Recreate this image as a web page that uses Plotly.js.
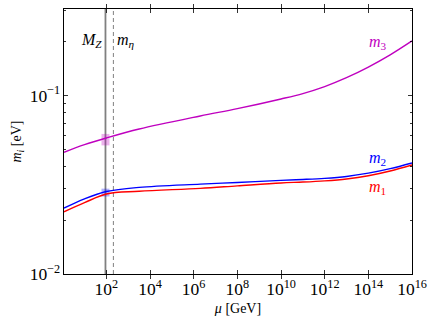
<!DOCTYPE html>
<html>
<head>
<meta charset="utf-8">
<script src="https://cdn.plot.ly/plotly-3.0.1.min.js"></script>
<style>html,body{margin:0;padding:0;background:#fff;}#chart{width:436px;height:327px;}</style>
</head>
<body>
<div id="chart"></div>
<script>
// Renormalization scale mu [GeV]
const mu = [1.15, 10, 100, 3.2e3, 2e6, 1e8, 1e10, 1e11, 1e12, 1e13, 1e14, 1e15, 1e16];
// Neutrino masses [eV]
const m1 = [0.0223, 0.0251, 0.0281, 0.0291, 0.0302, 0.0312, 0.03239, 0.03277, 0.03329, 0.03411, 0.03557, 0.03782, 0.04086];
const m2 = [0.0234, 0.0264, 0.0290, 0.0306, 0.0319, 0.0326, 0.03350, 0.03388, 0.03437, 0.03522, 0.03675, 0.03897, 0.04194];
const m3 = [0.0481, 0.0531, 0.0579, 0.0650, 0.0769, 0.0845, 0.0958, 0.1027, 0.1124, 0.1260, 0.1445, 0.1692, 0.2026];
// Scales
const MZ = 91.19;
const mEta = 210;
// Values at M_Z with uncertainty ranges
const m3Range = [0.0526, 0.061];
const m2Range = [0.0272, 0.0301];
const yLim = [0.01, 0.306];
const xLim = [1.15, 1e16];
const yMinorTicks = [0.02,0.03,0.04,0.05,0.06,0.07,0.08,0.09,0.2,0.3];

const serif = 'Liberation Serif, Times New Roman, serif';
const traces = [
  {x:[MZ,MZ], y:yLim, mode:'lines', line:{color:'#808080', width:1.8}, hoverinfo:'skip'},
  {x:[mEta,mEta], y:yLim, mode:'lines', line:{color:'#808080', width:1, dash:'4px,3px'}, hoverinfo:'skip'},
  {x:[MZ,MZ], y:m3Range, mode:'lines', line:{color:'#bf00bf', width:8}, opacity:0.3, hoverinfo:'skip'},
  {x:[MZ,MZ], y:m2Range, mode:'lines', line:{color:'#0000ff', width:8}, opacity:0.3, hoverinfo:'skip'},
  {x:mu, y:m1, mode:'lines', line:{color:'#ff0000', width:1.4, shape:'spline', smoothing:1}},
  {x:mu, y:m2, mode:'lines', line:{color:'#0000ff', width:1.4, shape:'spline', smoothing:1}},
  {x:mu, y:m3, mode:'lines', line:{color:'#bf00bf', width:1.4, shape:'spline', smoothing:1}},
  // invisible trace to carry minor-tick overlay axis
  {x:[xLim[0]], y:[yLim[0]], yaxis:'y2', mode:'markers', marker:{opacity:0}, hoverinfo:'skip'}
];

const ann = (t, x, y, c) => ({text:t, xref:'paper', yref:'paper', x:x, y:y, showarrow:false,
  xanchor:'center', yanchor:'middle', font:{family:serif, size:16, color:c}});

const yr = [Math.log10(yLim[0]), Math.log10(yLim[1])];
const layout = {
  width:436, height:327,
  margin:{l:64, r:24, t:9, b:53},
  paper_bgcolor:'#fff', plot_bgcolor:'#fff',
  showlegend:false,
  font:{family:serif, size:14, color:'#000'},
  xaxis:{type:'log', range:[Math.log10(xLim[0]), Math.log10(xLim[1])], dtick:2, exponentformat:'power',
    ticks:'inside', ticklen:4, tickwidth:0.8, tickcolor:'#000', mirror:'allticks', showline:true,
    linecolor:'#000', linewidth:1, showgrid:false, zeroline:false,
    tickfont:{family:serif, size:14},
    title:{text:'<i>μ</i> [GeV]', font:{family:serif, size:14}, standoff:4}},
  yaxis:{type:'log', range:yr, dtick:1, exponentformat:'power',
    ticks:'inside', ticklen:4, tickwidth:0.8, tickcolor:'#000', mirror:'allticks', showline:true,
    linecolor:'#000', linewidth:1, showgrid:false, zeroline:false,
    tickfont:{family:serif, size:14},
    title:{text:'<i>m<sub>i</sub></i> [eV]', font:{family:serif, size:14}, standoff:4}},
  yaxis2:{type:'log', range:yr, overlaying:'y', side:'left', tickvals:yMinorTicks,
    showticklabels:false, ticks:'inside', ticklen:2, tickwidth:0.8, tickcolor:'#000',
    mirror:'allticks', showline:false, showgrid:false, zeroline:false},
  annotations:[
    ann('<i>M<sub>Z</sub></i>', 0.08, 0.88, '#000'),
    ann('<i>m<sub>η</sub></i>', 0.177, 0.88, '#000'),
    ann('<i>m</i><sub>3</sub>', 0.901, 0.873, '#bf00bf'),
    ann('<i>m</i><sub>2</sub>', 0.901, 0.435, '#0000ff'),
    ann('<i>m</i><sub>1</sub>', 0.901, 0.328, '#ff0000')
  ]
};
Plotly.newPlot('chart', traces, layout, {staticPlot:true, displayModeBar:false});
</script>
</body>
</html>
